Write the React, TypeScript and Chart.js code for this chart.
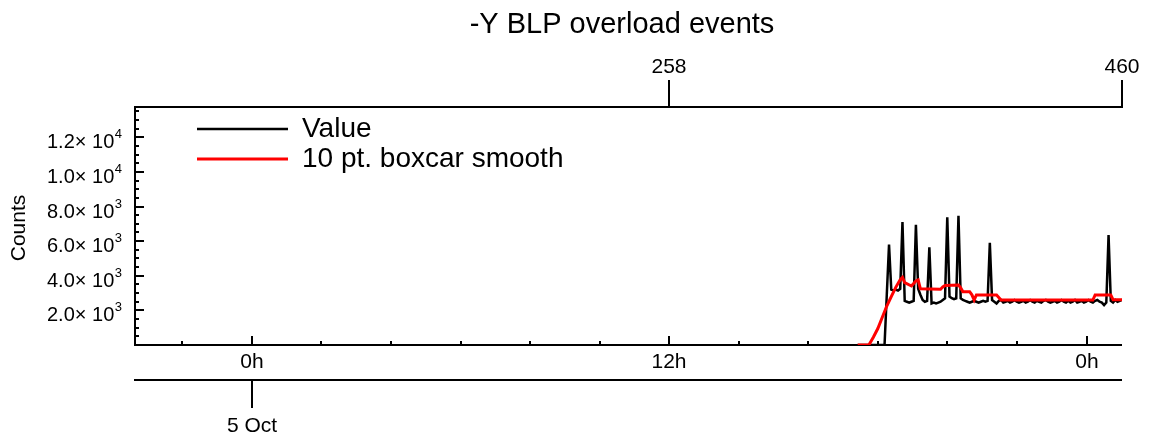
import React, { useEffect, useRef } from "react";
import { Chart, registerables } from "chart.js";

Chart.register(...registerables);

// ---------------- data ----------------
const TITLE = "-Y BLP overload events";
const Y_TITLE = "Counts";
const SERIES_NAMES = ["Value", "10 pt. boxcar smooth"];

// "Value" series: one count per point index, starting at VALUE_START
const VALUE_START = 342;
const valueCounts = [
  0, 0, 0, 0, 0, 0, 0, 0, 0, 0, 0, 0, 0,
  2900, 5800, 3200, 3150, 3200, 3150, 3250, 7100,
  2550, 2500, 2450, 2500, 2550, 6950, 3250, 2900, 2600, 2500, 2550, 5650,
  2400, 2450, 2400, 2450, 2500, 2600, 2700, 7380,
  2800, 2700, 2650, 2700, 7470,
  2700, 2600, 2550, 2500, 2450, 2500, 2550, 2500, 2450, 2500, 2550, 2500, 2550, 5900, 2600,
  2500, 2400, 2550, 2600, 2450, 2500, 2550, 2450, 2500, 2600,
  2500, 2450, 2500, 2550, 2450, 2500, 2600, 2500, 2450, 2550,
  2500, 2450, 2550, 2600, 2500, 2450, 2500, 2550, 2450, 2500,
  2600, 2500, 2450, 2550, 2450, 2500, 2600, 2450, 2500, 2550,
  2450, 2500, 2600, 2500, 2450, 2550, 2600, 2500, 2450,
  2300, 2450, 6350, 2550, 2450, 2600, 2500, 2550, 2600,
];

// smoothed series, read at its vertices (point index, counts)
const smoothIdx = [342, 347, 349, 351, 353, 355, 357, 359, 361, 362, 363, 366, 368, 369, 370, 379, 380, 381, 387, 388, 389, 392, 393, 394, 395, 404, 405, 406, 447, 448, 455, 456, 460];
const smoothCounts = [0, 0, 450, 950, 1600, 2250, 2800, 3330, 3780, 3910, 3600, 3410, 3700, 3760, 3250, 3220, 3350, 3440, 3470, 3300, 3080, 3080, 2900, 2600, 2890, 2890, 2750, 2600, 2600, 2890, 2890, 2620, 2620];

// y axis
const Y_MIN = 0;
const Y_MAX = 13750;
const yMajorTicks = [2000, 4000, 6000, 8000, 10000, 12000];
const yTickMantissa = ["2.0", "4.0", "6.0", "8.0", "1.0", "1.2"];
const yTickExp = ["3", "3", "3", "3", "4", "4"];
const Y_MINOR_STEP = 500;

// top axis (point index)
const IDX_MIN = 19.4;
const IDX_MAX = 460;
const topTicks = [258, 460];
const topTickLabels = ["258", "460"];

// bottom axis (hours)
const HOUR_MIN = -3.362;
const HOUR_MAX = 25.02;
const hourMajorTicks = [0, 12, 24];
const hourMajorLabels = ["0h", "12h", "0h"];
const HOUR_MINOR_STEP = 2;
const dateTicks = [0];
const dateLabels = ["5 Oct"];

// ---------------- drawing ----------------
const FONT = '"Liberation Sans", Arial, Helvetica, sans-serif';

const decorPlugin = {
  id: "decor",
  beforeDatasetsDraw(chart: any) {
    const ctx = chart.ctx as CanvasRenderingContext2D;
    const { left, right, top, bottom } = chart.chartArea;
    const xs = chart.scales.x;
    const xh = chart.scales.xh;
    const ys = chart.scales.y;
    ctx.save();
    ctx.strokeStyle = "#000";
    ctx.fillStyle = "#000";
    ctx.lineWidth = 2;
    ctx.lineCap = "butt";

    // axis lines
    ctx.beginPath();
    ctx.moveTo(left - 1, top);
    ctx.lineTo(right + 1, top);
    ctx.moveTo(left, top);
    ctx.lineTo(left, bottom + 1);
    ctx.moveTo(left - 1, bottom);
    ctx.lineTo(right, bottom);
    ctx.stroke();

    // top ticks
    ctx.font = `21px ${FONT}`;
    ctx.textAlign = "center";
    ctx.textBaseline = "alphabetic";
    topTicks.forEach((v, i) => {
      const x = Math.round(xs.getPixelForValue(v));
      ctx.beginPath();
      ctx.moveTo(x, top + 1);
      ctx.lineTo(x, top - 27);
      ctx.stroke();
      ctx.fillText(topTickLabels[i], x, 73);
    });

    // y ticks
    ctx.beginPath();
    for (let v = Y_MINOR_STEP; v <= Y_MAX; v += Y_MINOR_STEP) {
      const y = Math.round(ys.getPixelForValue(v));
      const major = yMajorTicks.indexOf(v) >= 0;
      ctx.moveTo(left, y);
      ctx.lineTo(left + (major ? 9 : 4), y);
    }
    ctx.stroke();

    // y labels with superscript exponent
    yMajorTicks.forEach((v, i) => {
      const y = ys.getPixelForValue(v);
      const rightEdge = left - 13;
      ctx.font = `13px ${FONT}`;
      ctx.textAlign = "right";
      const supW = ctx.measureText(yTickExp[i]).width;
      ctx.fillText(yTickExp[i], rightEdge, y + 1);
      ctx.font = `20px ${FONT}`;
      ctx.fillText(`${yTickMantissa[i]}\u00d7 10`, rightEdge - supW - 0.5, y + 11);
    });

    // bottom (hour) ticks
    ctx.beginPath();
    const h0 = Math.ceil(HOUR_MIN / HOUR_MINOR_STEP) * HOUR_MINOR_STEP;
    for (let h = h0; h <= HOUR_MAX; h += HOUR_MINOR_STEP) {
      const x = Math.round(xh.getPixelForValue(h));
      const major = hourMajorTicks.indexOf(h) >= 0;
      ctx.moveTo(x, bottom);
      ctx.lineTo(x, bottom - (major ? 9 : 4));
    }
    ctx.stroke();
    ctx.font = `21px ${FONT}`;
    ctx.textAlign = "center";
    hourMajorTicks.forEach((h, i) => {
      const x = Math.round(xh.getPixelForValue(h));
      ctx.fillText(hourMajorLabels[i], x, 368);
    });

    // date axis
    const dateY = 380;
    ctx.beginPath();
    ctx.moveTo(left - 1, dateY);
    ctx.lineTo(right, dateY);
    dateTicks.forEach((h) => {
      const x = Math.round(xh.getPixelForValue(h));
      ctx.moveTo(x, dateY);
      ctx.lineTo(x, dateY + 28);
    });
    ctx.stroke();
    dateTicks.forEach((h, i) => {
      const x = Math.round(xh.getPixelForValue(h));
      ctx.fillText(dateLabels[i], x, 432);
    });

    // title
    ctx.font = `29px ${FONT}`;
    ctx.textAlign = "center";
    ctx.fillText(TITLE, 622, 33);

    // y title
    ctx.save();
    ctx.translate(19, (top + bottom) / 2 + 2);
    ctx.rotate(-Math.PI / 2);
    ctx.font = `21px ${FONT}`;
    ctx.textAlign = "center";
    ctx.textBaseline = "middle";
    ctx.fillText(Y_TITLE, 0, 0);
    ctx.restore();

    // legend
    const legendColors = ["#000000", "#ff0000"];
    const legendWidths = [2.5, 3];
    const legendY = [129, 159];
    const legendBase = [137, 167];
    SERIES_NAMES.forEach((name, i) => {
      ctx.strokeStyle = legendColors[i];
      ctx.lineWidth = legendWidths[i];
      ctx.beginPath();
      ctx.moveTo(197, legendY[i]);
      ctx.lineTo(288, legendY[i]);
      ctx.stroke();
      ctx.fillStyle = "#000";
      ctx.font = `28px ${FONT}`;
      ctx.textAlign = "left";
      ctx.fillText(name, 302, legendBase[i]);
    });

    ctx.restore();
  },
};

export default function App() {
  const canvasRef = useRef<HTMLCanvasElement | null>(null);

  useEffect(() => {
    const canvas = canvasRef.current;
    if (!canvas) return;
    const chart = new Chart(canvas, {
      type: "line",
      data: {
        datasets: [
          {
            label: SERIES_NAMES[0],
            data: valueCounts.map((v, i) => ({ x: VALUE_START + i, y: v })),
            borderColor: "#000000",
            borderWidth: 2.5,
            pointRadius: 0,
            fill: false,
            tension: 0,
            order: 1,
            xAxisID: "x",
            yAxisID: "y",
          },
          {
            label: SERIES_NAMES[1],
            data: smoothIdx.map((x, i) => ({ x, y: smoothCounts[i] })),
            borderColor: "#ff0000",
            borderWidth: 3,
            pointRadius: 0,
            fill: false,
            tension: 0,
            order: 0,
            xAxisID: "x",
            yAxisID: "y",
          },
        ],
      },
      options: {
        responsive: false,
        animation: false,
        devicePixelRatio: 1,
        layout: { padding: { left: 135, right: 29, top: 107, bottom: 98 } },
        scales: {
          x: { type: "linear", axis: "x", position: "top", min: IDX_MIN, max: IDX_MAX, display: false },
          xh: { type: "linear", axis: "x", position: "bottom", min: HOUR_MIN, max: HOUR_MAX, display: false },
          y: { type: "linear", axis: "y", position: "left", min: Y_MIN, max: Y_MAX, display: false },
        },
        plugins: {
          legend: { display: false },
          title: { display: false },
          tooltip: { enabled: false },
        },
        events: [],
      },
      plugins: [decorPlugin],
    } as any);
    return () => chart.destroy();
  }, []);

  return (
    <div style={{ position: "absolute", left: 0, top: 0, width: 1151, height: 443, background: "#ffffff" }}>
      <canvas ref={canvasRef} width={1151} height={443} style={{ display: "block" }} />
    </div>
  );
}
